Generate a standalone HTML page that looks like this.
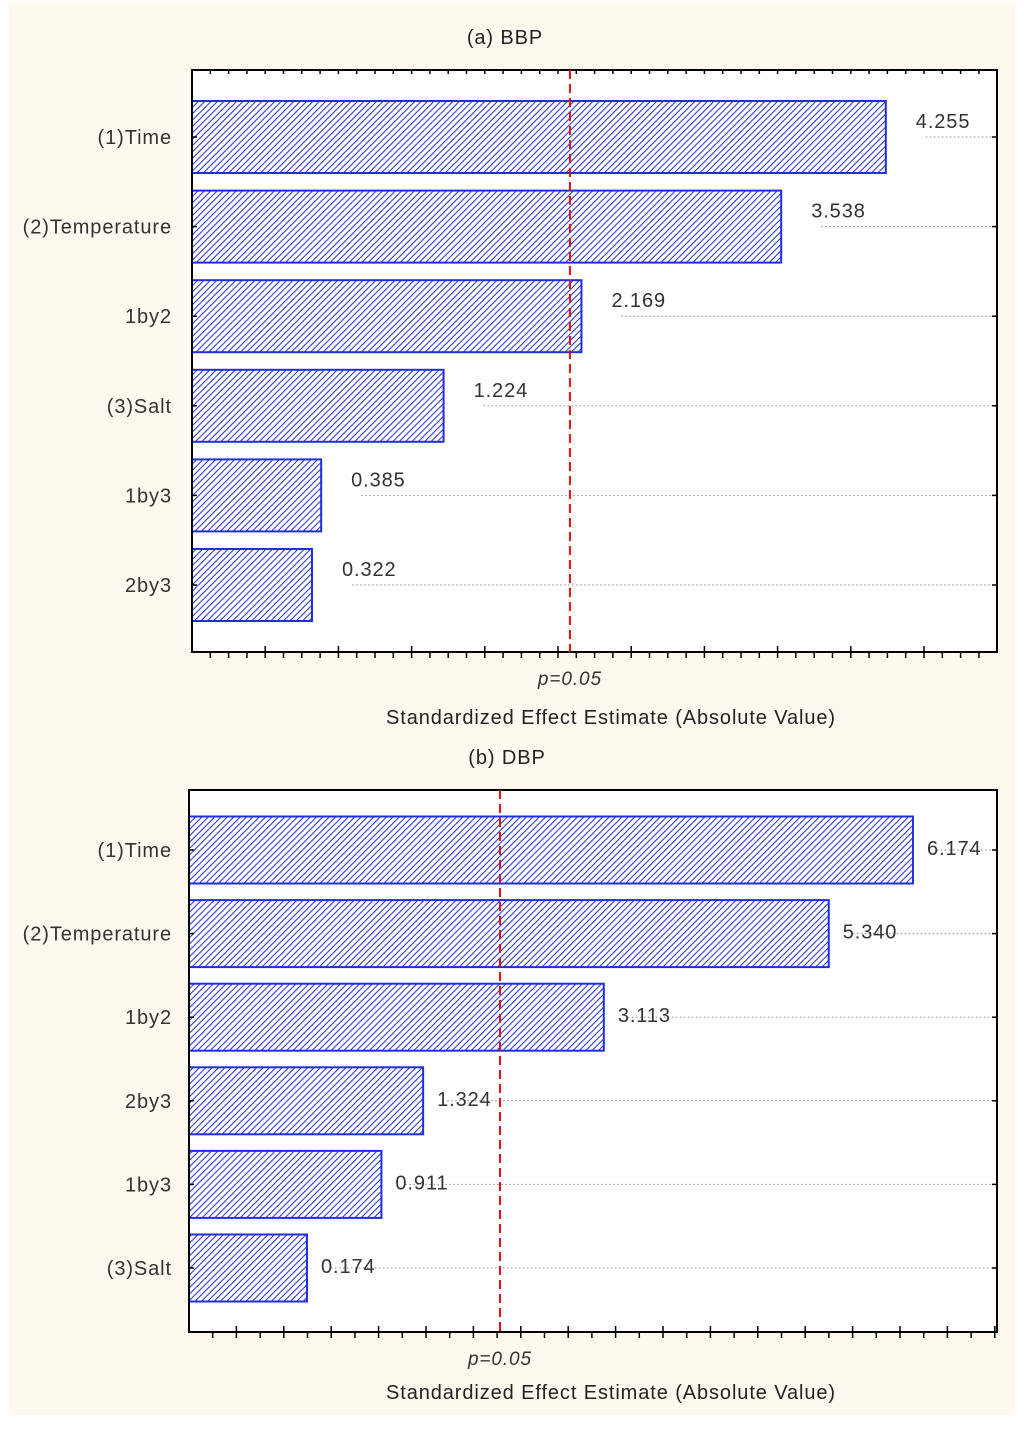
<!DOCTYPE html>
<html><head><meta charset="utf-8"><style>
html,body{margin:0;padding:0;background:#fff;}
svg{display:block;font-family:"Liberation Sans",sans-serif;}
svg text{letter-spacing:0.9px;}
</style></head><body>
<svg id="fig" width="1024" height="1438" xmlns="http://www.w3.org/2000/svg">
<defs>
<pattern id="hatch" patternUnits="userSpaceOnUse" width="4.5" height="4.5" patternTransform="rotate(45)">
<rect width="4.5" height="4.5" fill="#fff"/>
<line x1="0" y1="0" x2="0" y2="4.5" stroke="#1f2fe0" stroke-width="2"/>
</pattern>
</defs>
<rect x="9" y="2" width="1006" height="1413" fill="#fef9ee"/>
<g id="chartA"></g>
<g id="chartB"></g>
</svg>
<script>
const catsA = ["(1)Time","(2)Temperature","1by2","(3)Salt","1by3","2by3"];
const valsA = [4.255,3.538,2.169,1.224,0.385,0.322];
const labelsA = ["4.255","3.538","2.169","1.224","0.385","0.322"];
const critA = 2.09;
const catsB = ["(1)Time","(2)Temperature","1by2","2by3","1by3","(3)Salt"];
const valsB = [6.174,5.340,3.113,1.324,0.911,0.174];
const labelsB = ["6.174","5.340","3.113","1.324","0.911","0.174"];
const critB = 2.085;

const NS="http://www.w3.org/2000/svg";
function mk(parent,tag,attrs,text){const e=document.createElementNS(NS,tag);for(const k in attrs)e.setAttribute(k,attrs[k]);if(text!==undefined)e.textContent=text;parent.appendChild(e);return e;}

function draw(gid,cfg,cats,vals,labels,crit){
  const g=document.getElementById(gid);
  const sx=v=>cfg.x0+v*cfg.k;
  const sy=i=>cfg.c0+i*cfg.step;
  let e;
  e=mk(g,'rect',{x:cfg.L,y:cfg.T,width:cfg.R-cfg.L,height:cfg.B-cfg.T,fill:'#fff'});
  
  
  e=mk(g,'text',{x:cfg.titleX,y:cfg.titleY,'font-size':20,fill:'#222','text-anchor':'middle'},cfg.title);
  
  
  cats.forEach((c,i)=>{
    const y=sy(i);
    const x2=sx(vals[i]);
    e=mk(g,'line',{x1:x2+cfg.lblOff+10,y1:y,x2:cfg.R,y2:y,stroke:'#888','stroke-width':1,'stroke-dasharray':'1.5,2.5'});
    
    
    e=mk(g,'rect',{x:cfg.L,y:y-cfg.bh/2,width:x2-cfg.L,height:cfg.bh,fill:'url(#hatch)',stroke:'#1f2fe0','stroke-width':2});
    
    
    e=mk(g,'text',{x:x2+cfg.lblOff,y:y+7-cfg.lblUp,'font-size':20,fill:'#333'},labels[i]);
    
    
    e=mk(g,'text',{x:172,y:y+7,'font-size':20,fill:'#333','text-anchor':'end'},c);
    
    
    e=mk(g,'line',{x1:cfg.L,y1:y,x2:cfg.L+5,y2:y,stroke:'#000','stroke-width':1.5});
    
    
    e=mk(g,'line',{x1:cfg.R-5,y1:y,x2:cfg.R,y2:y,stroke:'#000','stroke-width':1.5});
    
    
  });
  for(let x=cfg.L+cfg.tick;x<cfg.R;x+=cfg.tick){
    e=mk(g,'line',{x1:x,y1:cfg.B,x2:x,y2:cfg.B+6,stroke:'#000','stroke-width':1.5});
    
    
    if(cfg.top){e=mk(g,'line',{x1:x,y1:cfg.T,x2:x,y2:cfg.T+4,stroke:'#000','stroke-width':1.5});
    
    }
  }
  for(let x=cfg.L+cfg.major;x<cfg.R;x+=cfg.major){
    e=mk(g,'line',{x1:x,y1:cfg.B-6,x2:x,y2:cfg.B,stroke:'#000','stroke-width':1.5});
    
    
  }
  e=mk(g,'rect',{x:cfg.L,y:cfg.T,width:cfg.R-cfg.L,height:cfg.B-cfg.T,fill:'none',stroke:'#000','stroke-width':2});
  
  
  const cx=sx(crit);
  e=mk(g,'line',{x1:cx,y1:cfg.T,x2:cx,y2:cfg.B,stroke:'#e01010','stroke-width':2,'stroke-dasharray':'9,5'});
  
  
  e=mk(g,'text',{x:cx,y:cfg.B+33,'font-size':19,'font-style':'italic',fill:'#333','text-anchor':'middle'},'p=0.05');
  
  
  e=mk(g,'text',{x:611,y:cfg.axY,'font-size':20,fill:'#222','text-anchor':'middle'},'Standardized Effect Estimate (Absolute Value)');
  
  
}
draw('chartA',{L:192,R:997,T:70,B:652,x0:265,k:145.9,c0:137,step:89.6,bh:72,tick:18.3,major:73.2,top:true,title:'(a)  BBP',titleX:505,titleY:44,axY:724,lblOff:30,lblUp:16},catsA,valsA,labelsA,critA);
draw('chartB',{L:189,R:997,T:790,B:1332,x0:289.4,k:101,c0:850,step:83.6,bh:67,tick:23.7,major:47.4,top:false,title:'(b)  DBP',titleX:507,titleY:764,axY:1399,lblOff:14,lblUp:2},catsB,valsB,labelsB,critB);
</script>
</body></html>
